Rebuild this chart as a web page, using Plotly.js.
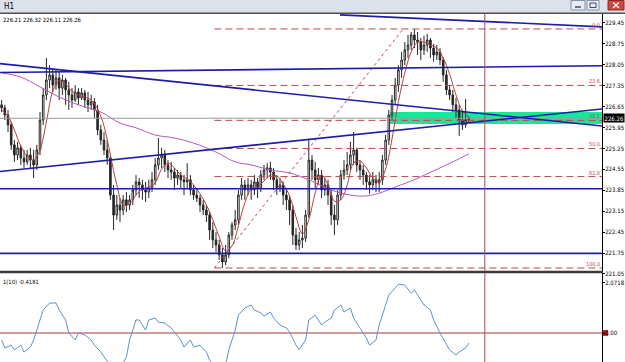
<!DOCTYPE html>
<html><head><meta charset="utf-8">
<script src="https://cdn.plot.ly/plotly-3.0.1.min.js"></script>
<style>html,body{margin:0;padding:0;background:#fff;overflow:hidden}#chart{width:625px;height:362px}</style>
</head><body><div id="chart"></div>
<script>
// ---- OHLC (H1 bars, oldest -> newest) ----
const openP = [226.71,226.61,226.37,226.04,225.37,225.03,225.27,224.93,224.80,225.03,
224.86,224.70,225.20,226.20,227.04,227.54,227.71,227.37,227.61,227.27,
227.54,227.21,227.04,226.87,227.14,226.94,227.11,226.87,226.71,226.81,
226.54,225.87,225.53,225.20,224.93,223.69,223.02,223.36,223.19,223.53,
223.36,223.53,223.86,224.13,224.03,223.86,223.79,223.93,224.20,224.70,
224.93,225.03,224.70,224.53,224.46,224.26,224.36,224.20,224.13,224.20,
223.86,223.69,223.59,223.36,223.19,223.02,222.52,222.19,222.02,221.69,
221.45,221.69,222.35,222.69,222.86,223.69,224.03,223.86,224.03,223.86,
224.13,223.93,224.36,224.53,224.60,224.46,224.20,223.93,224.03,223.69,
223.53,223.19,222.35,222.02,222.19,222.25,223.02,224.86,224.53,224.20,
224.36,223.86,224.03,223.69,223.02,222.86,223.69,224.36,224.53,224.70,
225.03,225.20,224.70,224.53,224.36,224.13,224.03,224.20,224.10,224.20,
224.86,225.53,226.37,226.87,227.37,227.88,228.21,228.55,228.71,229.05,
228.88,228.81,228.55,228.71,228.88,228.61,228.38,228.48,228.21,227.71,
227.21,227.04,226.71,226.54,226.20,226.04,226.21];
const highP = [226.87,226.71,226.54,226.14,225.53,225.47,225.37,225.20,225.20,225.27,
225.20,225.37,226.47,227.27,228.28,228.04,227.94,227.88,227.81,227.71,
227.61,227.48,227.27,227.37,227.27,227.27,227.21,227.14,227.04,226.94,
226.71,226.04,225.80,225.53,225.03,224.03,223.69,223.59,223.69,223.79,
223.69,224.03,224.36,224.26,224.20,224.13,224.20,224.46,224.93,225.60,
225.27,225.20,224.86,224.80,224.60,224.53,224.46,224.36,224.76,224.36,
224.03,223.93,223.69,223.53,223.36,223.12,222.79,222.45,222.19,221.92,
222.02,222.45,222.79,223.19,223.86,224.26,224.20,224.26,224.20,224.36,
224.26,224.53,224.70,224.76,224.80,224.60,224.36,224.26,224.13,223.93,
223.69,223.36,222.59,222.45,222.69,223.19,225.53,225.03,224.80,224.60,
224.53,224.26,224.20,223.86,223.36,223.86,224.53,224.86,225.13,225.47,
225.80,225.27,224.86,224.70,224.46,224.36,224.46,224.36,224.46,225.03,
225.70,226.54,227.04,227.61,228.04,228.48,228.81,229.05,229.15,229.25,
229.15,228.95,229.02,229.08,228.95,228.75,228.71,228.61,228.31,227.88,
227.37,227.21,226.94,226.71,226.54,226.91,226.32];
const lowP = [226.47,226.20,225.80,225.20,224.80,224.86,224.70,224.60,224.70,224.60,
224.26,224.53,225.03,226.04,226.87,227.27,227.14,227.21,226.87,227.04,
226.71,226.54,226.61,226.81,226.71,226.87,226.61,226.47,226.54,226.27,
225.70,225.37,225.03,224.70,223.53,222.52,222.86,222.79,223.02,223.12,
223.19,223.36,223.69,223.59,223.53,223.46,223.59,223.79,224.03,224.53,
224.60,224.46,224.26,224.20,223.86,224.03,223.93,223.69,223.93,223.69,
223.53,223.46,223.12,223.02,222.79,222.19,221.92,221.79,221.52,221.25,
221.35,221.58,222.19,222.52,222.69,223.53,223.53,223.69,223.53,223.69,
223.59,223.79,224.20,224.26,224.20,223.86,223.69,223.79,223.36,223.19,
222.69,222.02,221.85,221.85,221.92,222.12,222.92,224.20,223.93,224.03,
223.59,223.66,223.36,222.69,222.35,222.69,223.53,224.20,224.36,224.53,
224.70,224.46,224.20,224.03,223.86,223.73,223.86,223.79,223.79,224.03,
224.70,225.37,226.20,226.71,227.14,227.61,228.04,228.28,228.55,228.61,
228.38,228.21,228.38,228.48,228.28,228.15,228.21,228.04,227.48,227.04,
226.87,226.47,226.27,225.67,225.87,225.94,226.11];
const closeP = [226.61,226.37,226.04,225.37,225.03,225.27,224.93,224.80,225.03,224.86,
224.70,225.20,226.20,227.04,227.54,227.71,227.37,227.61,227.27,227.54,
227.21,227.04,226.87,227.14,226.94,227.11,226.87,226.71,226.81,226.54,
225.87,225.53,225.20,224.93,223.69,223.02,223.36,223.19,223.53,223.36,
223.53,223.86,224.13,224.03,223.86,223.79,223.93,224.20,224.70,224.93,
225.03,224.70,224.53,224.46,224.26,224.36,224.20,224.13,224.20,223.86,
223.69,223.59,223.36,223.19,223.02,222.52,222.19,222.02,221.69,221.45,
221.69,222.35,222.69,222.86,223.69,224.03,223.86,224.03,223.86,224.13,
223.93,224.36,224.53,224.60,224.46,224.20,223.93,224.03,223.69,223.53,
223.19,222.35,222.02,222.19,222.25,223.02,224.86,224.53,224.20,224.36,
223.86,224.03,223.69,223.02,222.86,223.69,224.36,224.53,224.70,225.03,
225.20,224.70,224.53,224.36,224.13,224.03,224.20,224.10,224.20,224.86,
225.53,226.37,226.87,227.37,227.88,228.21,228.55,228.71,229.05,228.88,
228.81,228.55,228.71,228.88,228.61,228.38,228.48,228.21,227.71,227.21,
227.04,226.71,226.54,226.20,226.04,226.21,226.26];

// ---- fast MA (red), read at every 2nd bar ----
const maFastBar = [0,2,4,6,8,10,12,14,16,18,20,22,24,26,28,30,32,34,36,38,40,42,44,46,48,50,52,54,56,58,60,62,64,66,68,70,72,74,76,78,80,82,84,86,88,90,92,94,96,98,100,102,104,106,108,110,112,114,116,118,120,122,124,126,128,130,132,134,136,138,140,142,144,146];
const maFast = [226.54,226.34,225.87,225.33,225.00,224.86,225.20,226.14,227.17,227.51,
227.41,227.17,227.04,226.97,226.87,226.57,226.00,225.03,224.03,223.36,
223.39,223.69,223.89,223.96,224.10,224.56,224.76,224.60,224.36,224.23,
224.03,223.73,223.36,222.86,222.29,221.82,221.99,222.66,223.43,223.89,
223.96,224.16,224.36,224.33,224.06,223.66,222.96,222.39,222.86,223.76,
224.36,224.03,223.49,223.53,224.03,224.76,224.83,224.60,224.26,224.13,
224.56,225.57,226.81,227.78,228.48,228.81,228.81,228.71,228.61,228.28,
227.74,227.04,226.51,226.30];

// ---- slow MA (violet) ----
const maSlowBar = [0,6,12,18,24,31,37,42,48,54,60,67,73,78,84,90,96,103,109,114,119,123,128,135,141,146];
const maSlow = [227.78,227.64,227.31,226.97,226.71,226.47,226.10,225.94,225.70,225.60,225.43,225.13,224.80,224.70,224.53,224.43,224.20,223.86,223.69,223.66,223.79,223.96,224.16,224.50,224.80,225.07];

// ---- lower-panel oscillator ----
const indBar = [0,1,3,4,6,7,9,10,12,13,15,17,18,20,21,23,24,26,28,29,31,32,34,35,37,39,40,42,43,45,46,48,49,51,53,54,56,57,59,60,62,
64,65,67,68,70,71,73,74,76,78,79,81,82,84,85,87,89,90,92,93,95,96,98,100,101,103,104,106,107,109,110,112,114,115,117,118,120,121,123,124,126,128,129,131,132,134,135,137,139,140,142,143,145,146];
const indVal = [-0.29,-0.62,-0.50,-0.70,-0.50,-0.79,-0.58,-0.29,0.54,0.95,1.24,1.24,0.95,0.54,0.00,-0.29,0.00,-0.08,-0.29,-0.50,-0.79,-0.99,-1.32,-1.53,-1.45,-0.99,-0.29,0.54,0.54,0.12,0.54,0.62,0.45,0.41,0.21,0.04,-0.29,-0.58,-0.29,-0.58,-0.50,
-0.79,-1.12,-1.45,-1.61,-1.32,-0.70,0.12,0.74,1.03,1.16,0.95,0.83,0.70,0.87,0.62,0.33,0.21,0.04,-0.50,-0.70,-0.29,0.54,0.74,0.33,0.45,0.62,0.95,1.16,0.87,1.03,0.62,0.21,-0.21,-0.50,-0.29,0.33,1.16,1.57,1.86,2.02,1.98,1.65,1.78,1.36,1.16,0.95,0.54,0.00,-0.50,-0.70,-0.91,-0.79,-0.62,-0.4181];
const indLevels = [0];

// ---- drawn objects (bar index / price) ----
const viewBars = [-0.5, 187.625];
const trendA = {bars:[-0.5,187.625], prices:[228.09,226.00]};
const trendB = {bars:[-0.5,187.625], prices:[227.79,228.02]};
const trendC = {bars:[-0.5,187.625], prices:[224.48,226.57]};
const trendD = {bars:[105.75,187.625], prices:[229.72,229.32]};
const hLevels = [223.90, 221.74];
const zoneBars = [121.4, 187.625];
const zonePrices = [226.07, 226.47];
const fibAnchorBars = [66.5, 125.5];
const fibAnchorPrices = [221.25, 229.25];
const fibLabels = ['0.0','23.6','38.2','50.0','61.8','100.0'];
const fibPrices = [229.25,227.36,226.19,225.25,224.31,221.25];
const markerBar = [151];
const priceTicks = [229.45,228.75,228.05,227.35,226.65,225.95,225.25,224.55,223.85,223.15,222.45,221.75,221.05];
const indTicks = [2.0718, 0];
const indTickText = ['2.0718','0.00'];
const headerText = '226.21 226.32 226.11 226.26';
const indLabel = '1(10) -0.4181';
const periodLabel = 'H1';

const barIdx = closeP.map((_, i) => i);
const lastClose = closeP[closeP.length - 1];
const FONT = "'DejaVu Sans Condensed','Liberation Sans Narrow','Liberation Sans',sans-serif";
const BLUE = '#1c1ca8';
const FIBC = '#b84c4c';

const traces = [];
traces.push({type:'candlestick', x:barIdx, open:openP, high:highP, low:lowP, close:closeP,
  increasing:{line:{color:'#262626', width:1}, fillcolor:'#ffffff'},
  decreasing:{line:{color:'#262626', width:1}, fillcolor:'#262626'},
  whiskerwidth:0, hoverinfo:'skip', xaxis:'x', yaxis:'y'});
traces.push({type:'scatter', mode:'lines', x:maSlowBar, y:maSlow, line:{color:'#b45ab4', width:1, shape:'spline'}, hoverinfo:'skip'});
traces.push({type:'scatter', mode:'lines', x:maFastBar, y:maFast, line:{color:'#b84040', width:1, shape:'spline'}, hoverinfo:'skip'});
// bid line
traces.push({type:'scatter', mode:'lines', x:viewBars, y:[lastClose,lastClose], line:{color:'#9c9c9c', width:1}, hoverinfo:'skip'});
// fibo
fibPrices.forEach(p => traces.push({type:'scatter', mode:'lines', x:[fibAnchorBars[0], viewBars[1]], y:[p,p], line:{color:FIBC, width:1, dash:'7px,4px'}, hoverinfo:'skip'}));
traces.push({type:'scatter', mode:'lines', x:fibAnchorBars, y:fibAnchorPrices, line:{color:FIBC, width:1, dash:'dot'}, hoverinfo:'skip'});
// trend lines
[trendA, trendB, trendC, trendD].forEach(t => traces.push({type:'scatter', mode:'lines', x:t.bars, y:t.prices, line:{color:BLUE, width:1.6}, hoverinfo:'skip'}));
hLevels.forEach(p => traces.push({type:'scatter', mode:'lines', x:viewBars, y:[p,p], line:{color:BLUE, width:1.6}, hoverinfo:'skip'}));
// oscillator
indLevels.forEach(v => traces.push({type:'scatter', mode:'lines', x:viewBars, y:[v,v], yaxis:'y2', line:{color:'#a83232', width:1}, hoverinfo:'skip'}));
traces.push({type:'scatter', mode:'lines', x:indBar, y:indVal, yaxis:'y2', line:{color:'#5f93c4', width:1}, hoverinfo:'skip'});

const W = 602, H = 348; // plot area size
const px = x => x / W;
const py = y => (362 - y) / H;

const shapes = [
  {type:'rect', layer:'below', xref:'x', yref:'y', x0:zoneBars[0], x1:zoneBars[1], y0:zonePrices[0], y1:zonePrices[1], fillcolor:'#16e89a', line:{width:0}},
  {type:'line', xref:'x', yref:'paper', x0:markerBar[0], x1:markerBar[0], y0:0, y1:1, line:{color:'#b04a4a', width:1}},
  {type:'line', xref:'paper', yref:'paper', x0:0, x1:px(603), y0:py(272), y1:py(272), line:{color:'#3c3c3c', width:2.5}},
  // window title bar
  {type:'rect', xref:'paper', yref:'paper', x0:0, x1:px(625), y0:py(13), y1:py(0), fillcolor:'#dde2ea', line:{width:0}},
  {type:'line', xref:'paper', yref:'paper', x0:0, x1:px(625), y0:py(13.3), y1:py(13.3), line:{color:'#505050', width:1.4}},
  {type:'rect', xref:'paper', yref:'paper', x0:px(571), x1:px(585), y0:py(10), y1:py(0.5), fillcolor:'#e9edf3', line:{color:'#8393aa', width:1}},
  {type:'line', xref:'paper', yref:'paper', x0:px(575), x1:px(581), y0:py(7), y1:py(7), line:{color:'#3a4a60', width:1.5}},
  {type:'rect', xref:'paper', yref:'paper', x0:px(587), x1:px(599), y0:py(10), y1:py(0.5), fillcolor:'#e9edf3', line:{color:'#8393aa', width:1}},
  {type:'rect', xref:'paper', yref:'paper', x0:px(590), x1:px(596), y0:py(7.5), y1:py(3), fillcolor:'rgba(0,0,0,0)', line:{color:'#3a4a60', width:1}},
  {type:'rect', xref:'paper', yref:'paper', x0:px(608), x1:px(624), y0:py(10), y1:py(0.5), fillcolor:'#c9473e', line:{color:'#8a3028', width:1}},
  {type:'line', xref:'paper', yref:'paper', x0:px(613), x1:px(619), y0:py(2.5), y1:py(8), line:{color:'#ffffff', width:1.3}},
  {type:'line', xref:'paper', yref:'paper', x0:px(613), x1:px(619), y0:py(8), y1:py(2.5), line:{color:'#ffffff', width:1.3}},
  // red marker behind the oscillator zero label
  {type:'rect', layer:'below', xref:'paper', yref:'y2', x0:px(603), x1:px(608), y0:-0.12, y1:0.12, fillcolor:'#c01818', line:{width:0}}
];

const annotations = [
  {xref:'paper', yref:'paper', x:px(2), y:py(6.5), xanchor:'left', yanchor:'middle', text:periodLabel, showarrow:false, font:{family:FONT, size:8, color:'#000'}},
  {xref:'paper', yref:'paper', x:px(1), y:py(20), xanchor:'left', yanchor:'middle', text:headerText, showarrow:false, font:{family:FONT, size:5.8, color:'#000'}},
  {xref:'paper', yref:'paper', x:px(1), y:py(282), xanchor:'left', yanchor:'middle', text:indLabel, showarrow:false, font:{family:FONT, size:5.8, color:'#000'}},
  {xref:'paper', yref:'y', x:px(603), y:lastClose, xanchor:'left', yanchor:'middle', text:lastClose.toFixed(2), showarrow:false, bgcolor:'#000', borderpad:0.5, font:{family:FONT, size:6, color:'#fff'}}
];
fibLabels.forEach((t, i) => annotations.push({xref:'paper', yref:'y', x:px(601.5), y:fibPrices[i], xanchor:'right', yanchor:'bottom', yshift:-1, text:t, showarrow:false, font:{family:FONT, size:5.5, color:FIBC}}));

const axisCommon = {side:'right', ticks:'outside', ticklen:2, tickcolor:'#000', tickwidth:1, ticklabelstandoff:-1, showline:true, linecolor:'#000', linewidth:1, showgrid:false, zeroline:false, fixedrange:true, tickfont:{family:FONT, size:6, color:'#000'}, anchor:'x'};

const layout = {
  width:625, height:362, margin:{l:0, r:23, t:14, b:0, pad:0},
  paper_bgcolor:'#fff', plot_bgcolor:'#fff', showlegend:false,
  xaxis:{range:viewBars, visible:false, fixedrange:true, rangeslider:{visible:false}},
  yaxis:Object.assign({}, axisCommon, {domain:[0.25,1], range:[221.015,229.75], tickmode:'array', tickvals:priceTicks, ticktext:priceTicks.map(v=>v.toFixed(2))}),
  yaxis2:Object.assign({}, axisCommon, {domain:[0,0.25], range:[-1.2,2.4], tickmode:'array', tickvals:indTicks, ticktext:indTickText}),
  shapes:shapes, annotations:annotations
};

Plotly.newPlot('chart', traces, layout, {displayModeBar:false, staticPlot:true});
</script></body></html>
